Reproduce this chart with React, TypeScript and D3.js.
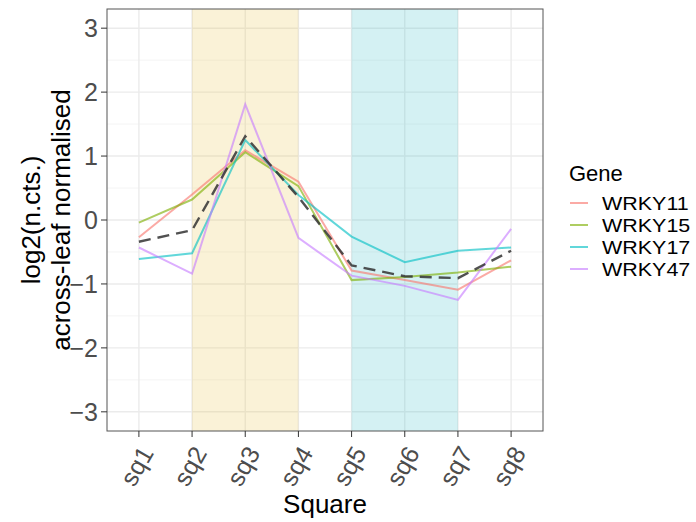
import React from 'react'
import * as d3 from 'd3'

// categories and series
const squares = ['sq1', 'sq2', 'sq3', 'sq4', 'sq5', 'sq6', 'sq7', 'sq8']
const genes = ['WRKY11', 'WRKY15', 'WRKY17', 'WRKY47']
const wrky11 = [-0.27, 0.4, 1.09, 0.6, -0.79, -0.94, -1.09, -0.63]
const wrky15 = [-0.04, 0.32, 1.06, 0.53, -0.94, -0.89, -0.82, -0.73]
const wrky17 = [-0.61, -0.52, 1.25, 0.39, -0.26, -0.66, -0.48, -0.43]
const wrky47 = [-0.43, -0.84, 1.81, -0.28, -0.87, -1.03, -1.25, -0.14]
const meanLine = [-0.34, -0.16, 1.31, 0.36, -0.71, -0.88, -0.91, -0.48]
const yTicks = [-3, -2, -1, 0, 1, 2, 3]
const yMinor = [-2.5, -1.5, -0.5, 0.5, 1.5, 2.5]
// shaded bands, in square positions (1-based)
const bands = [
  { from: 2, to: 4, color: '#E8C547' },
  { from: 5, to: 7, color: '#3CBFC8' },
]
const geneColors = ['#F8766D', '#7CAE00', '#00BFC4', '#C77CFF']
const series = [wrky11, wrky15, wrky17, wrky47]

const W = 696, H = 522
const panel = { left: 107, right: 543, top: 9, bottom: 431 }
const font = '"Liberation Sans", Arial, sans-serif'

// ggplot style minus sign
const fmt = (t: number) => (t < 0 ? '\u2212' + Math.abs(t) : String(t))

export default function App() {
  const x = d3.scaleLinear().domain([0.4, 8.6]).range([panel.left, panel.right])
  const y = d3.scaleLinear().domain([-3.3, 3.3]).range([panel.bottom, panel.top])
  const line = d3.line<number>().x((_, i) => x(i + 1)).y(v => y(v))

  return (
    <svg width={W} height={H} style={{ position: 'absolute', left: 0, top: 0, fontFamily: font }}>
      <rect width={W} height={H} fill="#fff" />
      {/* grid */}
      {yMinor.map(t => (
        <line key={'ym' + t} x1={panel.left} x2={panel.right} y1={y(t)} y2={y(t)} stroke="#F4F4F4" strokeWidth={1} />
      ))}
      {yTicks.map(t => (
        <line key={'y' + t} x1={panel.left} x2={panel.right} y1={y(t)} y2={y(t)} stroke="#EBEBEB" strokeWidth={1.4} />
      ))}
      {squares.map((s, i) => (
        <line key={'x' + s} x1={x(i + 1)} x2={x(i + 1)} y1={panel.top} y2={panel.bottom} stroke="#EBEBEB" strokeWidth={1.4} />
      ))}
      {/* bands */}
      {bands.map((b, i) => (
        <rect key={'b' + i} x={x(b.from)} width={x(b.to) - x(b.from)} y={panel.top} height={panel.bottom - panel.top}
          fill={b.color} fillOpacity={0.22} />
      ))}
      {/* gene lines */}
      {series.map((vals, i) => (
        <path key={genes[i]} d={line(vals) || ''} fill="none" stroke={geneColors[i]} strokeOpacity={0.62} strokeWidth={2} />
      ))}
      <path d={line(meanLine) || ''} fill="none" stroke="#333" strokeOpacity={0.85} strokeWidth={2.4} strokeDasharray="12,7" />
      {/* border */}
      <rect x={panel.left} y={panel.top} width={panel.right - panel.left} height={panel.bottom - panel.top}
        fill="none" stroke="#555" strokeWidth={1} />
      {/* y axis */}
      {yTicks.map(t => (
        <g key={'yt' + t}>
          <line x1={panel.left - 6} x2={panel.left} y1={y(t)} y2={y(t)} stroke="#333" strokeWidth={1} />
          <text x={panel.left - 9} y={y(t)} dy="0.36em" textAnchor="end" fontSize={25} fill="#4D4D4D">{fmt(t)}</text>
        </g>
      ))}
      {/* x axis */}
      {squares.map((s, i) => (
        <g key={'xt' + s}>
          <line x1={x(i + 1)} x2={x(i + 1)} y1={panel.bottom} y2={panel.bottom + 6} stroke="#333" strokeWidth={1} />
          <text transform={`translate(${x(i + 1)},${panel.bottom + 13}) rotate(-60)`} dy="0.72em" textAnchor="end"
            fontSize={25} fill="#4D4D4D">{s}</text>
        </g>
      ))}
      <text x={(panel.left + panel.right) / 2} y={513} textAnchor="middle" fontSize={26} fill="#000">Square</text>
      <g transform={`translate(0,${(panel.top + panel.bottom) / 2}) rotate(-90)`}>
        <text x={0} y={40} textAnchor="middle" fontSize={26} fill="#000">log2(n.cts.)</text>
        <text x={0} y={70} textAnchor="middle" fontSize={26} fill="#000">across-leaf normalised</text>
      </g>
      {/* legend */}
      <text x={569} y={181} fontSize={22} fill="#000">Gene</text>
      {genes.map((g, i) => {
        const cy = 203 + i * 22
        return (
          <g key={'lg' + g}>
            <line x1={570} x2={588} y1={cy} y2={cy} stroke={geneColors[i]} strokeOpacity={0.62} strokeWidth={2} />
            <text transform={`translate(602,${cy}) scale(1.13,1)`} dy="0.36em" fontSize={19} fill="#000">{g}</text>
          </g>
        )
      })}
    </svg>
  )
}
